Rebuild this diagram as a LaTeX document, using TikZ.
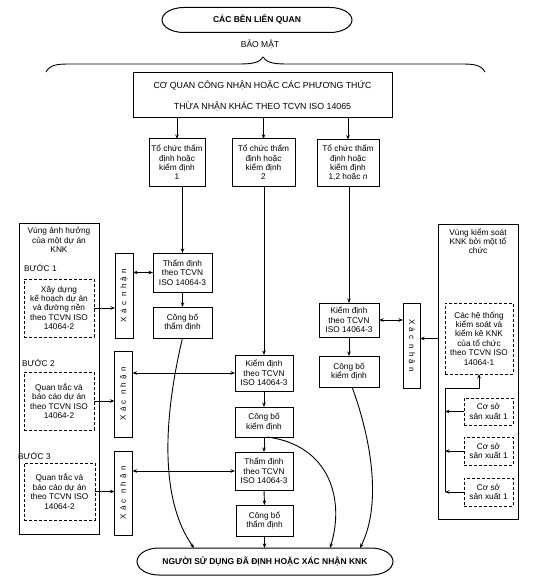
\documentclass[tikz,border=0pt]{standalone}
\usepackage{fontspec}
\usepackage{graphicx}
\setmainfont{Liberation Sans}
\newfontfamily\xnfont[LetterSpace=40]{Liberation Sans}
\usetikzlibrary{arrows.meta,calc}
\newcommand\mystadium[3]{%
  \draw[line width=1pt] ($(#1.north west)+(#2,0)$) -- ($(#1.north east)+(-#2,0)$)
    arc[start angle=90,end angle=-90,x radius=#2pt,y radius=#3pt]
    -- ($(#1.south west)+(#2,0)$)
    arc[start angle=270,end angle=90,x radius=#2pt,y radius=#3pt] -- cycle;}
\begin{document}
\begin{tikzpicture}[x=1pt,y=-1pt,
  every node/.style={inner sep=0pt,outer sep=0pt},
  bx/.style={draw,line width=1pt,align=center,font=\fontsize{8.3}{9.4}\selectfont},
  dbx/.style={bx,dash pattern=on 3pt off 2pt},
  xbx/.style={draw,line width=1pt,font=\fontsize{8}{9}\selectfont,minimum width=18pt,minimum height=85pt},
  txt/.style={align=center,font=\fontsize{8.3}{9.2}\selectfont},
  arr/.style={line width=0.9pt,-{Stealth[length=4.5pt,width=3.5pt]}},
  darr/.style={line width=0.9pt,{Stealth[length=4.5pt,width=3.5pt]}-{Stealth[length=4.5pt,width=3.5pt]}},
  ln/.style={line width=0.9pt}]
\fill[white] (0,0) rectangle (536,580);
\useasboundingbox (0,0) rectangle (536,580);

% top
\node[font=\bfseries\fontsize{8.5}{10}\selectfont,minimum width=190pt,minimum height=25pt] (top) at (257,20) {CÁC BÊN LIÊN QUAN};
\mystadium{top}{22}{12.5}
\node[font=\fontsize{8.5}{10}\selectfont] (bm) at (260,44) {BẢO MẬT};
\draw[ln] (46,72) .. controls (50,65) and (56,64) .. (70,64) -- (240,64)
  .. controls (254,64) and (260,62) .. (263,57)
  .. controls (266,62) and (272,64) .. (286,64) -- (461,64)
  .. controls (475,64) and (481,65) .. (485,72);
\node[bx,font=\fontsize{8.8}{10}\selectfont,minimum width=259pt,minimum height=45pt] (coq) at (262.5,95.5)
  {CƠ QUAN CÔNG NHẬN HOẶC CÁC PHƯƠNG THỨC\\[11pt]THỪA NHẬN KHÁC THEO TCVN ISO 14065};

\node[bx,minimum width=56pt,minimum height=47pt] (tc1) at (177,162.5) {Tổ chức thẩm\\định hoặc\\kiểm định\\1};
\node[bx,minimum width=63pt,minimum height=47pt] (tc2) at (263.5,162.5) {Tổ chức thẩm\\định hoặc\\kiểm định\\2};
\node[bx,minimum width=62pt,minimum height=47pt] (tc3) at (348,163) {Tổ chức thẩm\\định hoặc\\kiểm định\\1,2 hoặc \textit{n}};

% left region
\node[draw,line width=1pt,minimum width=80pt,minimum height=311pt] (lbig) at (59,378.5) {};
\node[txt] (lbigt) at (59,240) {Vùng ảnh hưởng\\của một dự án\\KNK};
\node[txt,anchor=west] (b1) at (24,268) {BƯỚC 1};
\node[txt,anchor=west] (b2) at (22,363) {BƯỚC 2};
\node[txt,anchor=west] (b3) at (18,456) {BƯỚC 3};
\node[dbx,minimum width=70pt,minimum height=58pt] (d1) at (59,308) {Xây dựng\\kế hoạch dự án\\và đường nền\\theo TCVN ISO\\14064-2};
\node[dbx,minimum width=70pt,minimum height=58pt] (d2) at (59,401) {Quan trắc và\\báo cáo dự án\\theo TCVN ISO\\14064-2};
\node[dbx,minimum width=71pt,minimum height=57pt] (d3) at (59.5,491.5) {Quan trắc và\\báo cáo dự án\\theo TCVN ISO\\14064-2};
\node[xbx] (x1) at (124,295.5) {\rotatebox{90}{\xnfont Xác nhận}};
\node[xbx,minimum height=86pt] (x2) at (123.5,394) {\rotatebox{90}{\xnfont Xác nhận}};
\node[xbx,minimum height=84pt] (x3) at (123.5,493) {\rotatebox{90}{\xnfont Xác nhận}};

% columns
\node[bx,minimum width=59pt,minimum height=39pt] (td1) at (182.5,272.5) {Thẩm định\\theo TCVN\\ISO 14064-3};
\node[bx,minimum width=59pt,minimum height=31pt] (cb1) at (182.5,322.5) {Công bố\\thẩm định};
\node[bx,minimum width=58pt,minimum height=36pt] (kd2) at (264,373) {Kiểm định\\theo TCVN\\ISO 14064-3};
\node[bx,minimum width=58pt,minimum height=30pt] (cb2) at (264,422) {Công bố\\kiểm định};
\node[bx,minimum width=58pt,minimum height=38pt] (td3) at (264,471) {Thẩm định\\theo TCVN\\ISO 14064-3};
\node[bx,minimum width=57pt,minimum height=31pt] (cb3) at (264.5,520.5) {Công bố\\thẩm định};
\node[bx,minimum width=60pt,minimum height=34pt] (kd3) at (349,320) {Kiểm định\\theo TCVN\\ISO 14064-3};
\node[bx,minimum width=60pt,minimum height=31pt] (cb4) at (349,371.5) {Công bố\\kiểm định};
\node[xbx,minimum width=17pt] (xr) at (411.5,345.5) {\rotatebox{-90}{\xnfont Xác nhận}};

% right region
\node[draw,line width=1pt,minimum width=80pt,minimum height=295pt] (rbig) at (478,371.5) {};
\node[txt] (rbigt) at (478,241) {Vùng kiểm soát\\KNK bởi một tổ\\chức};
\node[dbx,minimum width=68pt,minimum height=71pt] (ht) at (479,338.5) {Các hệ thống\\kiểm soát và\\kiểm kê KNK\\của tổ chức\\theo TCVN ISO\\14064-1};
\node[dbx,minimum width=49pt,minimum height=27pt] (cs1) at (488.5,411.5) {Cơ sở\\sản xuất 1};
\node[dbx,minimum width=49pt,minimum height=28pt] (cs2) at (488.5,451) {Cơ sở\\sản xuất 1};
\node[dbx,minimum width=49pt,minimum height=28pt] (cs3) at (488.5,492) {Cơ sở\\sản xuất 1};

% bottom
\node[font=\bfseries\fontsize{8.5}{10}\selectfont,minimum width=256pt,minimum height=27pt] (bot) at (265,561.5) {NGƯỜI SỬ DỤNG ĐÃ ĐỊNH HOẶC XÁC NHẬN KNK};
\mystadium{bot}{22}{13.5}

% connectors
\draw[arr] (coq.south -| tc1.north) -- (tc1.north);
\draw[arr] (coq.south -| tc2.north) -- (tc2.north);
\draw[arr] (coq.south -| tc3.north) -- (tc3.north);
\draw[arr] (td1.north |- tc1.south) -- (td1.north);
\draw[arr] (td1.south) -- (cb1.north);
\draw[arr] (kd2.north |- tc2.south) -- (kd2.north);
\draw[arr] (kd2.south) -- (cb2.north);
\draw[arr] (cb2.south) -- (td3.north);
\draw[arr] (td3.south) -- (cb3.north);
\draw[arr] (cb3.south) -- (cb3.south |- bot.north);
\draw[arr] (kd3.north |- tc3.south) -- (kd3.north);
\draw[arr] (kd3.south) -- (cb4.north);

\draw[arr] (d1.east) -- (d1.east -| x1.west);
\draw[arr] (d2.east) -- (d2.east -| x2.west);
\draw[arr] (d3.east) -- (d3.east -| x3.west);
\draw[darr] (x1.east |- td1.west) -- (td1.west);
\draw[darr] (x2.east |- kd2.west) -- (kd2.west);
\draw[darr] (x3.east |- td3.west) -- (td3.west);
\draw[darr] (kd3.east) -- (kd3.east -| xr.west);
\draw[arr] (rbig.west |- ht.west) -- (xr.east |- ht.west);

\coordinate (bt) at (445,388);
\draw[arr] (cs1.west) -- (cs1.west -| bt);
\draw[arr] (cs2.west) -- (cs2.west -| bt);
\draw[arr] (cs3.west) -- (cs3.west -| bt);
\draw[arr] (cs3.west -| bt) -- (bt) -| (ht.south);

\draw[arr] (cb1.south) .. controls (163,420) and (160,500) .. ($(bot.north)+(-71,0)$);
\draw[arr] ($(cb2.south)+(3,0)$) .. controls (330,445) and (345,500) .. ($(bot.north)+(65,0)$);
\draw[arr] ($(cb4.south)+(3,0)$) .. controls (368,430) and (384,500) .. ($(bot.north)+(95,0)$);
\end{tikzpicture}
\end{document}
